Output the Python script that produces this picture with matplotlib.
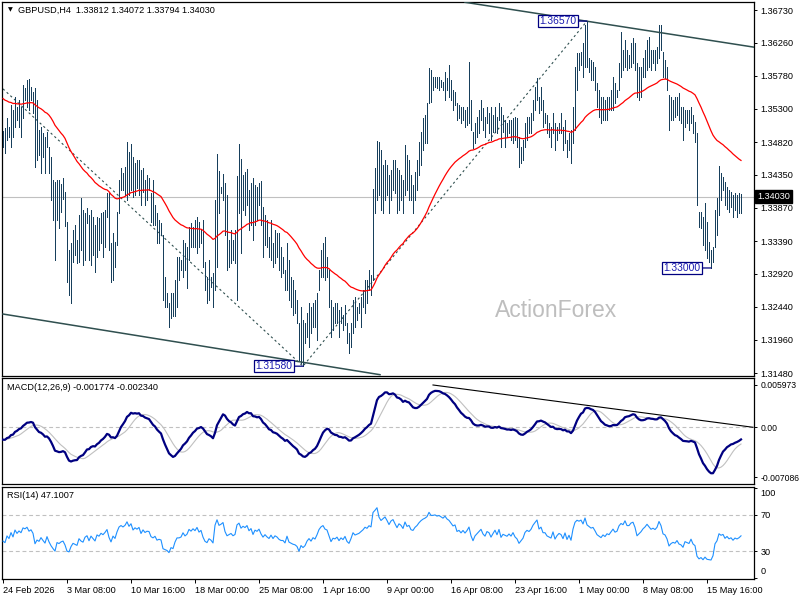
import numpy as np
import matplotlib
matplotlib.use("Agg")
import matplotlib.pyplot as plt

plt.rcParams["font.family"] = ["Liberation Sans", "DejaVu Sans"]

# GBPUSD H4 bars, prices in 1e-4 units
highs = [
    13498, 13502, 13517, 13504, 13536, 13528, 13547, 13533, 13543, 13533,
    13565, 13560, 13572, 13573, 13562, 13554, 13560, 13543, 13499, 13504,
    13495, 13489, 13496, 13475, 13460, 13427, 13424, 13427, 13427, 13422,
    13430, 13410, 13366, 13326, 13336, 13355, 13362, 13340, 13377, 13401,
    13384, 13380, 13387, 13377, 13384, 13374, 13362, 13374, 13372, 13380,
    13381, 13384, 13408, 13408, 13336, 13351, 13338, 13381, 13427, 13445,
    13437, 13446, 13482, 13468, 13479, 13460, 13452, 13456, 13456, 13442,
    13445, 13427, 13434, 13430, 13408, 13427, 13391, 13380, 13369, 13365,
    13348, 13287, 13264, 13249, 13264, 13264, 13283, 13316, 13316, 13312,
    13340, 13336, 13330, 13359, 13365, 13359, 13369, 13374, 13366, 13355,
    13369, 13309, 13287, 13312, 13287, 13293, 13398, 13465, 13440, 13417,
    13436, 13423, 13406, 13340, 13355, 13340, 13355, 13433, 13479, 13458,
    13434, 13439, 13443, 13413, 13423, 13430, 13420, 13417, 13423, 13426,
    13388, 13377, 13369, 13345, 13369, 13336, 13355, 13351, 13351, 13330,
    13316, 13297, 13336, 13312, 13287, 13283, 13268, 13254, 13220, 13243,
    13225, 13220, 13235, 13249, 13243, 13249, 13254, 13264, 13297, 13326,
    13336, 13345, 13316, 13297, 13254, 13243, 13249, 13249, 13239, 13243,
    13232, 13246, 13220, 13206, 13220, 13254, 13258, 13243, 13249, 13258,
    13268, 13283, 13283, 13297, 13290, 13414, 13445, 13484, 13482, 13471,
    13449, 13456, 13449, 13434, 13442, 13456, 13456, 13445, 13442, 13434,
    13427, 13478, 13463, 13456, 13434, 13420, 13439, 13456, 13482, 13497,
    13517, 13521, 13539, 13589, 13586, 13576, 13576, 13576, 13576, 13572,
    13569, 13583, 13575, 13594, 13572, 13557, 13554, 13539, 13536, 13533,
    13533, 13528, 13533, 13598, 13543, 13496, 13510, 13518, 13528, 13543,
    13531, 13518, 13533, 13524, 13533, 13521, 13533, 13518, 13539, 13533,
    13521, 13514, 13510, 13514, 13514, 13517, 13518, 13517, 13489, 13475,
    13485, 13510, 13518, 13518, 13524, 13543, 13562, 13575, 13547, 13562,
    13543, 13524, 13521, 13510, 13504, 13524, 13510, 13504, 13510, 13524,
    13504, 13514, 13485, 13495, 13499, 13533, 13591, 13611, 13611, 13612,
    13625, 13651, 13657, 13604, 13601, 13598, 13591, 13567, 13557, 13547,
    13547, 13543, 13547, 13547, 13557, 13576, 13567, 13557, 13596, 13641,
    13615, 13630, 13615, 13608, 13625, 13632, 13625, 13596, 13590, 13590,
    13604, 13615, 13630, 13634, 13615, 13615, 13615, 13620, 13651, 13651,
    13612, 13601, 13591, 13550, 13547, 13543, 13547, 13547, 13553, 13533,
    13533, 13528, 13528, 13528, 13533, 13521, 13511, 13495, 13381, 13381,
    13374, 13394, 13366, 13338, 13326, 13330, 13384, 13401, 13447, 13437,
    13431, 13424, 13417, 13413, 13410, 13406, 13408, 13406, 13408, 13407,
]
lows = [
    13475, 13466, 13485, 13489, 13475, 13489, 13504, 13514, 13504, 13489,
    13517, 13543, 13533, 13528, 13543, 13524, 13446, 13456, 13463, 13438,
    13460, 13438, 13475, 13438, 13398, 13369, 13312, 13369, 13358, 13381,
    13400, 13360, 13280, 13261, 13249, 13309, 13319, 13307, 13309, 13326,
    13304, 13312, 13365, 13312, 13304, 13319, 13294, 13316, 13326, 13336,
    13316, 13330, 13374, 13326, 13280, 13283, 13301, 13333, 13380, 13413,
    13413, 13406, 13398, 13406, 13413, 13403, 13406, 13416, 13406, 13391,
    13410, 13391, 13398, 13413, 13366, 13362, 13362, 13336, 13336, 13348,
    13254, 13243, 13243, 13215, 13228, 13230, 13230, 13244, 13283, 13297,
    13287, 13297, 13271, 13312, 13330, 13330, 13330, 13322, 13330, 13336,
    13301, 13268, 13249, 13254, 13272, 13244, 13268, 13301, 13380, 13408,
    13398, 13348, 13297, 13301, 13307, 13312, 13307, 13254, 13380, 13322,
    13384, 13377, 13391, 13355, 13362, 13340, 13362, 13369, 13391, 13362,
    13316, 13333, 13330, 13316, 13312, 13301, 13307, 13316, 13297, 13287,
    13293, 13268, 13268, 13254, 13244, 13232, 13235, 13220, 13167, 13162,
    13158, 13191, 13200, 13186, 13206, 13215, 13215, 13196, 13268, 13287,
    13287, 13283, 13287, 13244, 13200, 13210, 13220, 13220, 13200, 13220,
    13210, 13218, 13191, 13177, 13186, 13206, 13215, 13225, 13235, 13215,
    13244, 13235, 13249, 13268, 13261, 13283, 13380, 13398, 13406, 13384,
    13380, 13398, 13406, 13380, 13398, 13413, 13408, 13380, 13384, 13398,
    13380, 13406, 13413, 13398, 13398, 13380, 13398, 13413, 13434, 13449,
    13471, 13481, 13481, 13539, 13540, 13557, 13562, 13560, 13557, 13562,
    13557, 13543, 13557, 13547, 13543, 13528, 13536, 13514, 13517, 13510,
    13514, 13504, 13507, 13510, 13499, 13473, 13481, 13489, 13495, 13514,
    13499, 13489, 13510, 13495, 13485, 13496, 13496, 13495, 13514, 13475,
    13496, 13475, 13489, 13495, 13485, 13481, 13485, 13475, 13446, 13452,
    13456, 13475, 13485, 13495, 13495, 13514, 13528, 13543, 13524, 13528,
    13504, 13510, 13495, 13489, 13475, 13495, 13471, 13485, 13495, 13495,
    13471, 13481, 13460, 13471, 13452, 13481, 13499, 13557, 13586, 13594,
    13576, 13590, 13590, 13584, 13572, 13572, 13557, 13533, 13518, 13510,
    13514, 13514, 13514, 13528, 13528, 13528, 13539, 13547, 13557, 13576,
    13586, 13590, 13586, 13589, 13590, 13596, 13586, 13547, 13543, 13547,
    13576, 13576, 13586, 13590, 13586, 13596, 13586, 13596, 13604, 13615,
    13576, 13575, 13557, 13499, 13514, 13514, 13518, 13521, 13514, 13510,
    13485, 13504, 13510, 13499, 13510, 13495, 13482, 13391, 13359, 13358,
    13333, 13326, 13314, 13309, 13300, 13309, 13330, 13348, 13377, 13398,
    13413, 13391, 13386, 13381, 13388, 13374, 13384, 13374, 13379, 13379,
]
closes = [
    13490, 13480, 13510, 13495, 13525, 13500, 13540, 13520, 13535, 13525,
    13555, 13550, 13560, 13540, 13548, 13530, 13460, 13480, 13470, 13490,
    13470, 13450, 13485, 13445, 13410, 13380, 13350, 13400, 13390, 13400,
    13405, 13370, 13300, 13290, 13320, 13340, 13330, 13320, 13360, 13340,
    13330, 13360, 13370, 13330, 13360, 13340, 13320, 13360, 13350, 13370,
    13360, 13375, 13395, 13340, 13300, 13340, 13320, 13370, 13415, 13430,
    13420, 13435, 13470, 13440, 13465, 13420, 13440, 13430, 13445, 13400,
    13430, 13410, 13420, 13418, 13380, 13370, 13380, 13350, 13355, 13350,
    13270, 13260, 13250, 13225, 13250, 13240, 13275, 13300, 13300, 13305,
    13330, 13310, 13320, 13350, 13340, 13355, 13345, 13365, 13340, 13350,
    13310, 13280, 13270, 13290, 13280, 13260, 13380, 13440, 13400, 13412,
    13430, 13360, 13320, 13330, 13340, 13320, 13330, 13420, 13440, 13400,
    13420, 13410, 13430, 13390, 13410, 13360, 13400, 13390, 13410, 13370,
    13340, 13360, 13340, 13325, 13350, 13320, 13340, 13330, 13310, 13300,
    13300, 13280, 13320, 13270, 13260, 13250, 13245, 13230, 13180, 13210,
    13190, 13200, 13225, 13240, 13220, 13240, 13230, 13255, 13290, 13310,
    13320, 13300, 13295, 13260, 13215, 13235, 13230, 13240, 13215, 13230,
    13218, 13235, 13200, 13185, 13210, 13245, 13230, 13235, 13240, 13250,
    13260, 13275, 13270, 13285, 13280, 13400, 13430, 13470, 13420, 13400,
    13420, 13440, 13420, 13395, 13430, 13445, 13420, 13395, 13430, 13420,
    13400, 13460, 13430, 13440, 13410, 13405, 13430, 13445, 13470, 13490,
    13505, 13515, 13530, 13580, 13565, 13565, 13570, 13565, 13570, 13565,
    13560, 13575, 13565, 13560, 13550, 13540, 13545, 13520, 13525, 13515,
    13525, 13515, 13525, 13540, 13505, 13480, 13500, 13510, 13520, 13530,
    13510, 13500, 13520, 13515, 13495, 13510, 13525, 13505, 13530, 13490,
    13505, 13500, 13495, 13505, 13495, 13510, 13490, 13480, 13455, 13465,
    13475, 13500, 13510, 13505, 13515, 13535, 13550, 13565, 13530, 13540,
    13515, 13515, 13500, 13495, 13490, 13515, 13480, 13495, 13505, 13500,
    13480, 13505, 13470, 13490, 13460, 13525, 13580, 13600, 13595, 13605,
    13585, 13640, 13600, 13590, 13580, 13585, 13565, 13540, 13530, 13520,
    13535, 13525, 13540, 13535, 13550, 13565, 13550, 13555, 13585, 13600,
    13595, 13620, 13600, 13600, 13615, 13620, 13600, 13560, 13570, 13580,
    13595, 13605, 13620, 13610, 13600, 13605, 13600, 13610, 13640, 13625,
    13590, 13585, 13565, 13520, 13530, 13535, 13530, 13540, 13520, 13515,
    13500, 13520, 13515, 13510, 13525, 13500, 13490, 13400, 13365, 13370,
    13340, 13350, 13320, 13315, 13310, 13325, 13375, 13390, 13430, 13420,
    13425, 13400, 13410, 13395, 13400, 13385, 13395, 13390, 13395, 13403,
]

ma_start = 1.3547
ema12_start = 1.3500
ema26_start = 1.3518
rsi_prev_close = 1.3500
rsi_avg_gain_start = 0.00075
rsi_avg_loss_start = 0.00100

date_bars = [0, 32, 64, 96, 128, 160, 192, 224, 256, 288, 320, 352]
date_labels = ["24 Feb 2026", "3 Mar 08:00", "10 Mar 16:00", "18 Mar 00:00",
               "25 Mar 08:00", "1 Apr 16:00", "9 Apr 00:00", "16 Apr 08:00",
               "23 Apr 16:00", "1 May 00:00", "8 May 08:00", "15 May 16:00"]
price_ticks = [1.36730, 1.36260, 1.35780, 1.35300, 1.34820, 1.34350,
               1.33870, 1.33390, 1.32920, 1.32440, 1.31960, 1.31480]
last_price = 1.34030
swing_bars = [292, 150, 354]
swing_prices = [1.36570, 1.31580, 1.33000]
zigzag_bars = [0, 150, 292]
zigzag_prices = [1.3559, 1.3158, 1.3657]
upper_line_bars = [231, 375.5]
upper_line_prices = [1.36842, 1.36193]
lower_line_bars = [0, 188.5]
lower_line_prices = [1.32334, 1.31457]
macd_line_bars = [215, 375]
macd_line_values = [0.005973, 0.0]
macd_ticks = [0.005973, 0.0, -0.007086]
macd_tick_labels = ["0.005973", "0.00", "-0.007086"]
rsi_levels = [70, 30]

BAR = "#173F5C"
NAVY = "#000080"
GRID = "#C0C0C0"
FS = 6.6

high = np.array(highs) / 1e4
low = np.array(lows) / 1e4
close = np.array(closes) / 1e4
idx = np.arange(len(close))


def ema(values, period, start):
    k = 2.0 / (period + 1)
    out = np.empty(len(values))
    prev = start
    for j, v in enumerate(values):
        prev = prev + k * (v - prev)
        out[j] = prev
    return out


ma55 = ema(close, 55, ma_start)
macd = ema(close, 12, ema12_start) - ema(close, 26, ema26_start)
signal = np.array([macd[max(0, j - 8):j + 1].mean() for j in idx])

delta = np.diff(close, prepend=rsi_prev_close)
ag, al = rsi_avg_gain_start, rsi_avg_loss_start
rsi = np.empty(len(close))
for j, d in enumerate(delta):
    ag = (ag * 13 + max(d, 0)) / 14
    al = (al * 13 + max(-d, 0)) / 14
    rsi[j] = 100 - 100 / (1 + ag / al)

fig = plt.figure(figsize=(8, 6), dpi=100)
W, H = 800.0, 600.0
ax = fig.add_axes([2 / W, 1 - 376 / H, 752 / W, 374 / H])
axm = fig.add_axes([2 / W, 1 - 484 / H, 752 / W, 106 / H])
axr = fig.add_axes([2 / W, 1 - 579 / H, 752 / W, 92 / H])

for a in (ax, axm, axr):
    a.set_xlim(-0.5, 375.5)
    for s in a.spines.values():
        s.set_linewidth(0.9)
        s.set_color("black")
    a.yaxis.tick_right()
    a.tick_params(axis="y", direction="out", length=2.5, width=0.7,
                  labelsize=FS, pad=2)
    a.tick_params(axis="x", bottom=False, labelbottom=False)

# price panel
ax.set_ylim(1.31438, 1.36846)
ax.set_yticks(price_ticks)
ax.set_yticklabels([f"{p:.5f}" for p in price_ticks])
ax.axhline(last_price, color=GRID, lw=0.8, zorder=1)
ax.plot(zigzag_bars, zigzag_prices, color="#2F4F4F", lw=0.8,
        dashes=(2.0, 2.5), zorder=2)
ax.vlines(idx, low, high, colors=BAR, linewidth=0.6, antialiased=False,
          zorder=3)
ax.plot(idx, ma55, color="red", lw=0.9, zorder=4)
ax.plot(upper_line_bars, upper_line_prices, color="#2F4F4F", lw=1.1, zorder=4)
ax.plot(lower_line_bars, lower_line_prices, color="#2F4F4F", lw=1.1, zorder=4)

for b, p in zip(swing_bars, swing_prices):
    ax.annotate(f"{p:.5f}", xy=(b, p), xytext=(-7.5, 0),
                textcoords="offset points", ha="right", va="center",
                fontsize=7.4, color="#1A1AB0", zorder=6,
                bbox=dict(boxstyle="square,pad=0.12", fc="white", ec=NAVY,
                          lw=0.9),
                arrowprops=dict(arrowstyle="-", color=NAVY, lw=0.9,
                                shrinkA=0, shrinkB=0))

ax.text(0.737, 0.176, "ActionForex", transform=ax.transAxes, fontsize=16.5,
        color="#BEBEBE", ha="center", va="center", zorder=0)

ax.text(1.0 + 3 / 752, (last_price - 1.31438) / (1.36846 - 1.31438),
        f"{last_price:.5f}", transform=ax.transAxes, ha="left", va="center",
        fontsize=FS, color="white", zorder=7, clip_on=False,
        bbox=dict(boxstyle="square,pad=0.22", fc="black", ec="black"))

fig.text(10 / W, 1 - 10 / H, "\u25BC", fontsize=4.5, ha="center", va="center",
         family="DejaVu Sans")
fig.text(18 / W, 1 - 10 / H, "GBPUSD,H4  1.33812 1.34072 1.33794 1.34030",
         fontsize=FS, ha="left", va="center")

# MACD panel
axm.set_ylim(-0.00801, 0.00696)
axm.set_yticks(macd_ticks)
axm.set_yticklabels(macd_tick_labels)
axm.tick_params(axis="y", labelsize=6.2)
axm.axhline(0, color=GRID, lw=0.8, dashes=(3.5, 2.5), zorder=1)
axm.plot(idx, signal, color=GRID, lw=0.8, zorder=2)
axm.plot(idx, macd, color=NAVY, lw=1.6, zorder=3)
axm.plot(macd_line_bars, macd_line_values, color="black", lw=0.8, zorder=4)
axm.text(5 / 752, 1 - 10 / 106, "MACD(12,26,9) -0.001774 -0.002340",
         transform=axm.transAxes, fontsize=FS, ha="left", va="center")

# RSI panel
axr.set_ylim(-1.1, 101.1)
axr.set_yticks([100, 70, 30, 0])
axr.set_yticklabels(["", "70", "30", ""])
lab_tr = axr.get_yaxis_transform()
axr.text(1.0 + 6.3 / 752, 94.4, "100", transform=lab_tr, fontsize=FS,
         ha="left", va="center", clip_on=False)
axr.text(1.0 + 6.3 / 752, 6.7, "0", transform=lab_tr, fontsize=FS,
         ha="left", va="center", clip_on=False)
for lv in rsi_levels:
    axr.axhline(lv, color=GRID, lw=0.8, dashes=(3.5, 2.5), zorder=1)
axr.plot(idx, rsi, color="#1E90FF", lw=0.8, zorder=3)
axr.text(5 / 752, 1 - 9 / 92, "RSI(14) 47.1007", transform=axr.transAxes,
         fontsize=FS, ha="left", va="center")

axr.tick_params(axis="x", bottom=True, labelbottom=True, direction="out",
                length=3, width=0.7, labelsize=FS, pad=2)
axr.set_xticks(date_bars)
axr.set_xticklabels(date_labels, ha="left")

fig.savefig("out.png", dpi=100, facecolor="white")
